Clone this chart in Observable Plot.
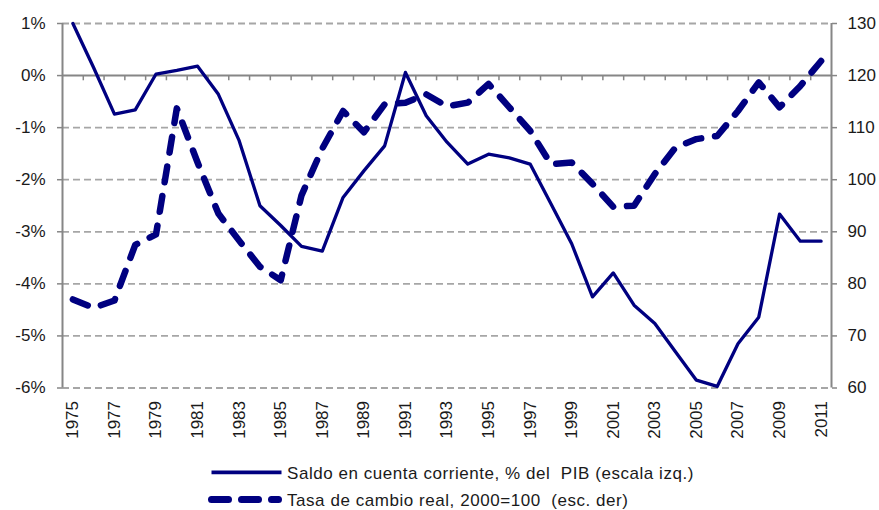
<!DOCTYPE html>
<html><head><meta charset="utf-8">
<script src="https://cdn.jsdelivr.net/npm/d3@7"></script>
<script src="https://cdn.jsdelivr.net/npm/@observablehq/plot@0.6"></script>
<style>
html,body{margin:0;padding:0;background:#fff;}
body{font-family:"Liberation Sans",Arial,sans-serif;width:879px;height:510px;overflow:hidden;}
#legend text{font-size:17px;fill:#1a1a1a;font-family:"Liberation Sans",Arial,sans-serif;letter-spacing:0.55px;white-space:pre;}
</style></head><body><div id="chart"></div>
<script>
const years = [1975,1976,1977,1978,1979,1980,1981,1982,1983,1984,1985,1986,1987,1988,1989,1990,1991,1992,1993,1994,1995,1996,1997,1998,1999,2000,2001,2002,2003,2004,2005,2006,2007,2008,2009,2010,2011];
// Saldo en cuenta corriente, % del PIB (escala izq.)
const saldo = [1.0,0.15,-0.74,-0.66,0.03,0.1,0.18,-0.36,-1.25,-2.5,-2.88,-3.28,-3.37,-2.34,-1.83,-1.35,0.06,-0.77,-1.28,-1.70,-1.51,-1.58,-1.70,-2.46,-3.23,-4.25,-3.79,-4.41,-4.76,-5.31,-5.85,-5.97,-5.15,-4.64,-2.66,-3.18,-3.18];
// Tasa de cambio real, 2000=100 (esc. der)
const tcr = [77.0,75.4,76.8,87.5,89.5,113.7,103.3,93.5,88.3,83.3,80.7,97.0,106.0,113.2,109.1,114.5,114.8,116.4,114.1,114.8,118.4,113.9,109.4,103.0,103.3,99.2,94.8,95.0,101.1,106.2,107.8,108.4,113.2,118.7,113.9,118.0,122.8];
const leftTicks = [-6,-5,-4,-3,-2,-1,0,1];
const rightTicks = [60,70,80,90,100,110,120,130];
const yearLabels = [1975,1977,1979,1981,1983,1985,1987,1989,1991,1993,1995,1997,1999,2001,2003,2005,2007,2009,2011];
const legendLabels = ["Saldo en cuenta corriente, % del  PIB (escala izq.)","Tasa de cambio real, 2000=100  (esc. der)"];

// right axis mapped onto left scale: 120 <-> 0%, 10 units <-> 1%
const toLeft = v => (v - 120) / 10;
const data = years.map((y, i) => ({year: y, saldo: saldo[i], tcr: toLeft(tcr[i])}));
const bounds = years.slice(1).map(y => y - 0.5);
const xMin = years[0] - 0.5, xMax = years[years.length - 1] + 0.5;

const W = 879, H = 451;
const navy = "#000080", axisGray = "#868686", gridGray = "#a6a6a6", txt = "#1a1a1a";

const chart = Plot.plot({
  width: W, height: H,
  marginLeft: 62, marginRight: 48, marginTop: 23, marginBottom: H - 387.5,
  style: {fontFamily: "Liberation Sans, Arial, sans-serif", fontSize: "17px", background: "white", color: txt, overflow: "visible"},
  x: {type: "linear", domain: [xMin, xMax]},
  y: {domain: [-6, 1]},
  marks: [
    Plot.ruleY(leftTicks.filter(d => d !== 0), {stroke: gridGray, strokeWidth: 1.8, strokeDasharray: "7,4"}),
    Plot.ruleX(bounds, {y1: 0, y2: -0.1, stroke: axisGray, strokeWidth: 1.5}),
    Plot.ruleY([0], {stroke: axisGray, strokeWidth: 2}),
    Plot.ruleX([xMin, xMax], {stroke: axisGray, strokeWidth: 2}),
    Plot.axisY({anchor: "left", ticks: leftTicks, tickFormat: d => `${d}%`, tickSize: 5, tickPadding: 12, stroke: axisGray, fill: txt, strokeWidth: 1.5, label: null}),
    Plot.axisY({anchor: "right", ticks: leftTicks, tickFormat: d => String(rightTicks[leftTicks.indexOf(d)]), tickSize: 5, tickPadding: 11, stroke: axisGray, fill: txt, strokeWidth: 1.5, label: null}),
    Plot.axisX({anchor: "bottom", ticks: yearLabels, tickFormat: d => String(d), tickSize: 0, tickPadding: 13, tickRotate: -90, fill: txt, label: null}),
    Plot.line(data, {x: "year", y: "saldo", stroke: navy, strokeWidth: 3.3, strokeLinejoin: "round"}),
    Plot.line(data, {x: "year", y: "tcr", stroke: navy, strokeWidth: 6.5, strokeDasharray: "16,14", strokeLinecap: "round", strokeLinejoin: "round"})
  ]
});
document.getElementById("chart").appendChild(chart);

// legend below the plot
const lg = d3.select("body").append("svg").attr("id", "legend").attr("width", W).attr("height", 510 - H).style("display", "block");
const r1 = lg.append("g");
r1.append("line").attr("x1", 211.5).attr("x2", 281.5).attr("y1", 21.3).attr("y2", 21.3).attr("stroke", navy).attr("stroke-width", 3.8);
r1.append("text").attr("x", 287).attr("y", 28).text(legendLabels[0]);
const r2 = lg.append("g");
r2.append("line").attr("x1", 211.5).attr("x2", 278.5).attr("y1", 48.5).attr("y2", 48.5).attr("stroke", navy).attr("stroke-width", 7).attr("stroke-dasharray", "17,13").attr("stroke-linecap", "round");
r2.append("text").attr("x", 287).attr("y", 54.5).text(legendLabels[1]);
</script></body></html>
